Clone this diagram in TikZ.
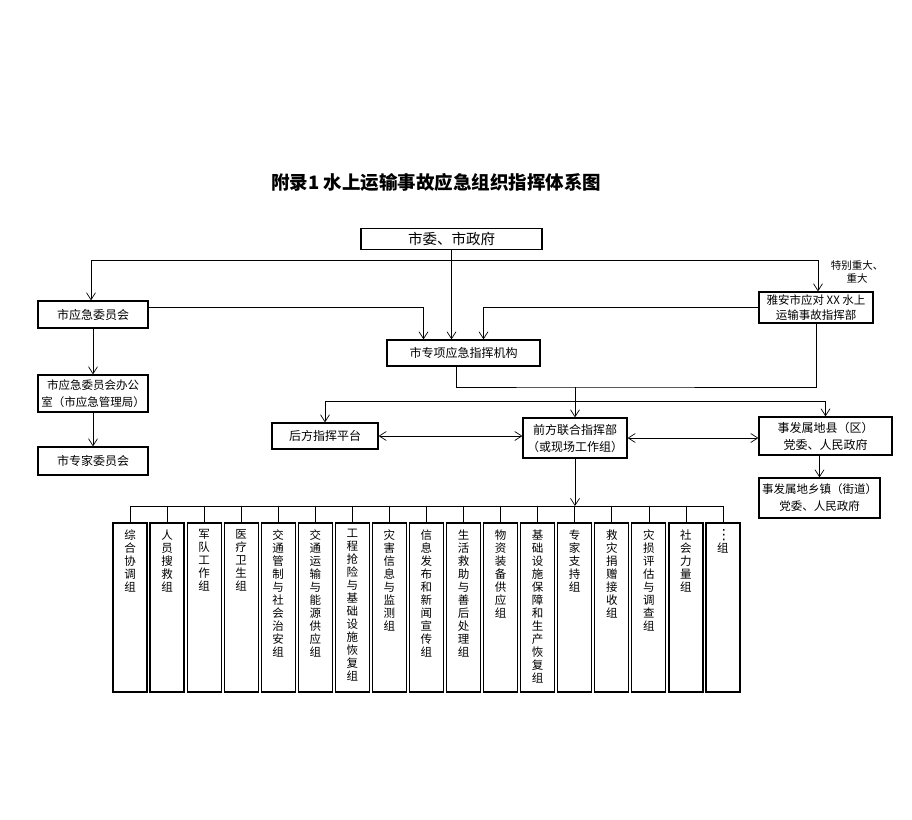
\documentclass[tikz,border=0pt]{standalone}
\usepackage{fontspec}
\setmainfont{Noto Sans CJK SC}
\newfontfamily\dejavu{DejaVu Sans}
\usetikzlibrary{positioning,arrows.meta}
\XeTeXlinebreaklocale "zh"
\XeTeXlinebreakskip=0pt plus 1pt
\tikzset{
box/.style={draw, line width=1.3pt, inner sep=0pt, align=center, font=\fontsize{12}{17}\selectfont},
grp/.style={draw, line width=1.2pt, inner sep=0pt, minimum width=34pt, minimum height=169pt},
grptxt/.style={anchor=north, inner sep=0pt, text width=12pt, align=center, font=\fontsize{11.5}{13}\selectfont},
link/.style={line width=0.7pt},
arr/.style={link, -{Straight Barb[length=7pt,width=9pt]}},
darr/.style={link, {Straight Barb[length=7pt,width=9pt]}-{Straight Barb[length=7pt,width=9pt]}}
}

\begin{document}
\begin{tikzpicture}[x=1pt,y=-1pt]
\useasboundingbox (0,0) rectangle (912,819);
\node[font=\bfseries\fontsize{18.5}{20}\selectfont] (title) at (436,182) {附录1\ 水上运输事故应急组织指挥体系图};

\node[box, minimum width=181pt, minimum height=21pt, font=\fontsize{14.5}{17}\selectfont] (gov) at (451.5,239) {市委、市政府};
\node[box, minimum width=110pt, minimum height=27pt] (yjw) at (93,314.5) {市应急委员会};
\node[box, minimum width=110pt, minimum height=37pt, font=\fontsize{11.5}{17}\selectfont] (ban) at (93,393.5) {市应急委员会办公\\室（市应急管理局）};
\node[box, minimum width=110pt, minimum height=28pt] (zj) at (93,461) {市专家委员会};
\node[box, minimum width=114pt, minimum height=31pt, font=\fontsize{11.5}{15}\selectfont] (ya) at (816,307.5) {雅安市应对 XX 水上\\运输事故指挥部};
\node[align=center, inner sep=0pt, font=\fontsize{10.5}{13}\selectfont] (tbzd) at (857,272) {特别重大、\\重大};
\node[box, minimum width=153pt, minimum height=26pt] (zx) at (463.5,353) {市专项应急指挥机构};
\node[box, minimum width=106pt, minimum height=26pt] (hf) at (325,436) {后方指挥平台};
\node[box, minimum width=104pt, minimum height=40pt] (qf) at (575,438) {前方联合指挥部\\（或现场工作组）};
\node[box, minimum width=133pt, minimum height=38pt] (xian) at (825.5,436) {事发属地县（区）\\党委、人民政府};
\node[box, minimum width=121pt, minimum height=40pt, font=\fontsize{11.5}{17}\selectfont] (xz) at (819.5,498) {事发属地乡镇（街道）\\党委、人民政府};

% working groups
\foreach \txt [count=\i from 0] in {综合协调组, 人员搜救组, 军队工作组, 医疗卫生组, 交通管制与社会治安组, 交通运输与能源供应组, 工程抢险与基础设施恢复组, 灾害信息与监测组, 信息发布和新闻宣传组, 生活救助与善后处理组, 物资装备供应组, 基础设施保障和生产恢复组, 专家支持组, 救灾捐赠接收组, 灾损评估与调查组, 社会力量组, {{\dejavu\fontsize{14}{16}\selectfont ⋮}\\组}}{
	\node[grp] (g\i) at ({130+37.06*\i},607.5) {};
	\node[grptxt] (t\i) at ([yshift=-7pt]g\i.north) {\txt};
}

\coordinate (tL) at (91,260);
\coordinate (tR) at (818,260);
\coordinate (j) at (575,387);
\coordinate (k) at (575,401);
\coordinate (bus) at (575,506);

\draw[arr] (gov.south) -- (gov.south |- zx.north);
\draw[arr] (tR) -- (tL) -- (tL |- yjw.north);
\draw[arr] (tR) -- (tR |- ya.north);
\draw[arr] ([yshift=7pt]yjw.east) -| ([xshift=-40pt]zx.north);
\draw[arr] (ya.west) -| ([xshift=20pt]zx.north);
\draw[arr] (yjw.south) -- (ban.north);
\draw[arr] (ban.south) -- (zj.north);
\draw[link] ([xshift=-7.5pt]zx.south) |- (j) -| (ya.south);
\draw[arr] (j) -- (qf.north);
\draw[link] (hf.north |- k) -- (xian.north |- k);
\draw[arr] (hf.north |- k) -- (hf.north);
\draw[arr] (xian.north |- k) -- (xian.north);
\draw[darr] (hf.east) -- (hf.east -| qf.west);
\draw[darr] (qf.east) -- (qf.east -| xian.west);
\draw[arr] (xz.north |- xian.south) -- (xz.north);
\draw[arr] (qf.south) -- (bus);
\draw[link] (g0.north |- bus) -- (g16.north |- bus);
\foreach \i in {0,...,16}{
	\draw[link] (g\i.north |- bus) -- (g\i.north);
}
\end{tikzpicture}
\end{document}
